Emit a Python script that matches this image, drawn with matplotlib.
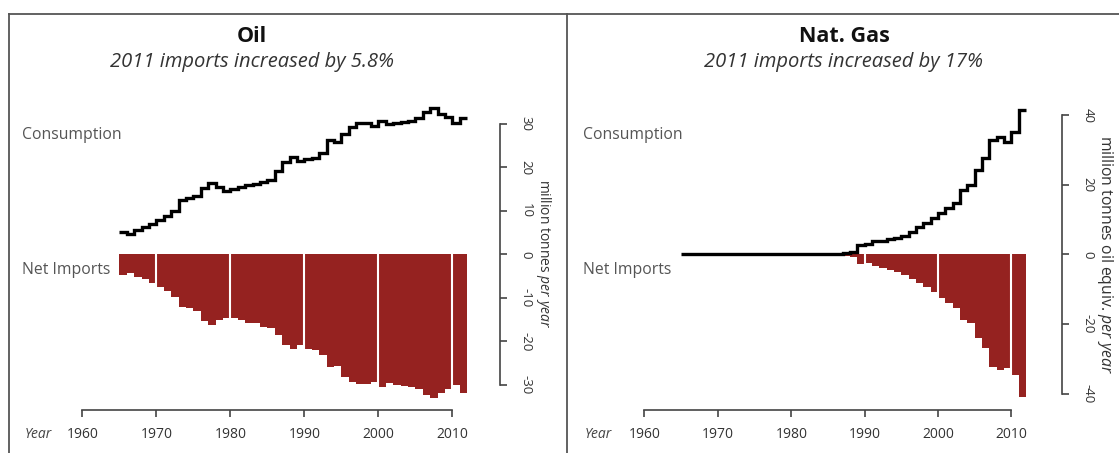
import matplotlib
matplotlib.use("Agg")
import matplotlib.pyplot as plt
from matplotlib.lines import Line2D

plt.rcParams['font.family'] = ['Open Sans', 'DejaVu Sans']
plt.rcParams['mathtext.fontset'] = 'custom'
plt.rcParams['mathtext.rm'] = 'Open Sans'
plt.rcParams['mathtext.it'] = 'Open Sans:italic'

# ---------------- data ----------------
years = list(range(1965, 2012))

oil_consumption = [5.2, 4.6, 5.6, 6.3, 7.0, 7.9, 8.9, 10.1, 12.5, 12.9,
                   13.5, 15.2, 16.5, 15.6, 14.6, 15.0, 15.6, 16.0, 16.2, 16.6,
                   17.2, 19.2, 21.2, 22.4, 21.6, 22.0, 22.2, 23.3, 26.3, 25.8,
                   27.8, 29.3, 30.2, 30.2, 29.6, 30.8, 29.9, 30.2, 30.4, 30.6,
                   31.3, 32.8, 33.6, 32.2, 31.6, 30.2, 31.3]
oil_imports = [-4.6, -4.2, -5.2, -5.7, -6.5, -7.4, -8.5, -9.7, -12.0, -12.4,
               -13.1, -15.4, -16.2, -15.1, -14.7, -14.5, -15.1, -15.8, -15.8, -16.7,
               -17.0, -18.5, -20.8, -21.8, -20.8, -21.8, -22.0, -23.1, -25.8, -25.6,
               -28.1, -29.2, -29.8, -29.8, -29.2, -30.4, -29.5, -30.0, -30.2, -30.4,
               -31.0, -32.3, -33.1, -31.8, -31.0, -30.0, -31.8]

gas_consumption = [0.0] * 21 + [0.1, 0.3, 0.8, 2.8, 3.0, 3.8, 4.0, 4.5, 4.8, 5.3,
                                6.6, 8.0, 9.0, 10.4, 11.8, 13.3, 14.7, 18.6, 20.0, 24.3,
                                27.7, 32.9, 33.9, 32.5, 35.3, 41.6]
gas_imports = [0.0] * 21 + [-0.3, -0.5, -0.8, -2.7, -2.5, -3.3, -4.0, -4.5, -4.9, -5.9,
                            -7.0, -8.3, -9.3, -10.7, -12.6, -14.1, -15.5, -18.9, -19.8, -24.1,
                            -27.0, -32.3, -33.2, -32.7, -34.7, -40.9]

x_ticks = [1960, 1970, 1980, 1990, 2000, 2010]
decades = [1970, 1980, 1990, 2000, 2010]
oil_yticks = [-30, -20, -10, 0, 10, 20, 30]
gas_yticks = [-40, -20, 0, 20, 40]

titles = ["Oil", "Nat. Gas"]
subtitles = ["2011 imports increased by 5.8%", "2011 imports increased by 17%"]
ylabels = ["million tonnes $\\mathit{per\\ year}$",
           "million tonnes oil equiv. $\\mathit{per\\ year}$"]

# ---------------- style ----------------
W, H = 1119, 453
RED = "#952220"
GREY = "#444444"
fig = plt.figure(figsize=(W / 100, H / 100), dpi=100)


def fx(x):
    return x / W


def fy(y):
    return 1 - y / H


def make_axes(x0, pxyr, y0, pxu, xlim, ylim):
    left = x0 + (xlim[0] - 1960) * pxyr
    right = x0 + (xlim[1] - 1960) * pxyr
    top = y0 - ylim[1] * pxu
    bottom = y0 - ylim[0] * pxu
    ax = fig.add_axes([left / W, 1 - bottom / H, (right - left) / W, (bottom - top) / H])
    ax.set_xlim(xlim)
    ax.set_ylim(ylim)
    ax.patch.set_alpha(0)
    return ax


panels = [
    dict(x0=82.5, pxyr=7.40, y0=254.5, pxu=4.35, ylim=(-38, 36), xaxis_y=-35.75,
         yaxis_x=2016.4, yticks=oil_yticks, cons=oil_consumption, imp=oil_imports,
         tcx=252, ylab_x=543, ylab_fs=10.0, left=22, year_x=38),
    dict(x0=644.5, pxyr=7.34, y0=254.5, pxu=3.475, ylim=(-46, 44), xaxis_y=-44.75,
         yaxis_x=2016.9, yticks=gas_yticks, cons=gas_consumption, imp=gas_imports,
         tcx=844, ylab_x=1105, ylab_fs=11.3, left=583, year_x=598),
]

for i, p in enumerate(panels):
    ax = make_axes(p["x0"], p["pxyr"], p["y0"], p["pxu"], (1955, 2020), p["ylim"])
    xs = years + [years[-1] + 1]
    imp = p["imp"] + [p["imp"][-1]]
    ax.fill_between(xs, imp, 0, step="post", color=RED, linewidth=0, zorder=1)
    ax.vlines(decades, min(p["imp"]) - 0.5, 0, color="white", lw=1.5, zorder=2)
    ys = p["cons"] + [p["cons"][-1]]
    ax.step(xs, ys, where="post", color="black", lw=2.4, zorder=3,
            solid_joinstyle="miter", solid_capstyle="butt")

    for s in ["top", "left"]:
        ax.spines[s].set_visible(False)
    ax.spines["bottom"].set_position(("data", p["xaxis_y"]))
    ax.spines["bottom"].set_bounds(1960, 2010)
    ax.spines["right"].set_position(("data", p["yaxis_x"]))
    ax.spines["right"].set_bounds(min(p["yticks"]), max(p["yticks"]))
    for s in ["bottom", "right"]:
        ax.spines[s].set_color(GREY)
        ax.spines[s].set_linewidth(1.2)

    ax.set_xticks(x_ticks)
    ax.set_xticklabels([str(t) for t in x_ticks])
    ax.yaxis.tick_right()
    ax.set_yticks(p["yticks"])
    ax.set_yticklabels([str(t) for t in p["yticks"]])
    ax.tick_params(axis="x", direction="out", length=5, width=1.2, color=GREY,
                   labelsize=10, labelcolor="#333333", pad=7)
    ax.tick_params(axis="y", direction="out", length=5, width=1.2, color=GREY,
                   labelsize=9.5, labelcolor="#333333", pad=9, labelrotation=-90)
    for lab in ax.get_yticklabels():
        lab.set_verticalalignment("center")

    # texts
    fig.text(fx(p["tcx"]), fy(37), titles[i], ha="center", va="center",
             fontsize=15.5, fontweight="bold", color="#111111")
    fig.text(fx(p["tcx"]), fy(62), subtitles[i], ha="center", va="center",
             fontsize=14.5, style="italic", color="#333333")
    fig.text(fx(p["left"]), fy(135), "Consumption", ha="left", va="center",
             fontsize=11.3, color="#555555")
    fig.text(fx(p["left"]), fy(270), "Net Imports", ha="left", va="center",
             fontsize=11.3, color="#555555")
    fig.text(fx(p["year_x"]), fy(434), "Year", ha="center", va="center",
             fontsize=10, style="italic", color=GREY)
    fig.text(fx(p["ylab_x"]), fy(254), ylabels[i], ha="center", va="center",
             rotation=-90, fontsize=p["ylab_fs"], color="#333333")

# frame lines
frame = dict(transform=fig.transFigure, color="#555555", lw=1.3)
fig.add_artist(Line2D([fx(9), 1], [fy(14), fy(14)], **frame))
fig.add_artist(Line2D([fx(9), fx(9)], [fy(14), 0], **frame))
fig.add_artist(Line2D([fx(567), fx(567)], [fy(14), 0], **frame))

fig.savefig("out.png", dpi=100)
